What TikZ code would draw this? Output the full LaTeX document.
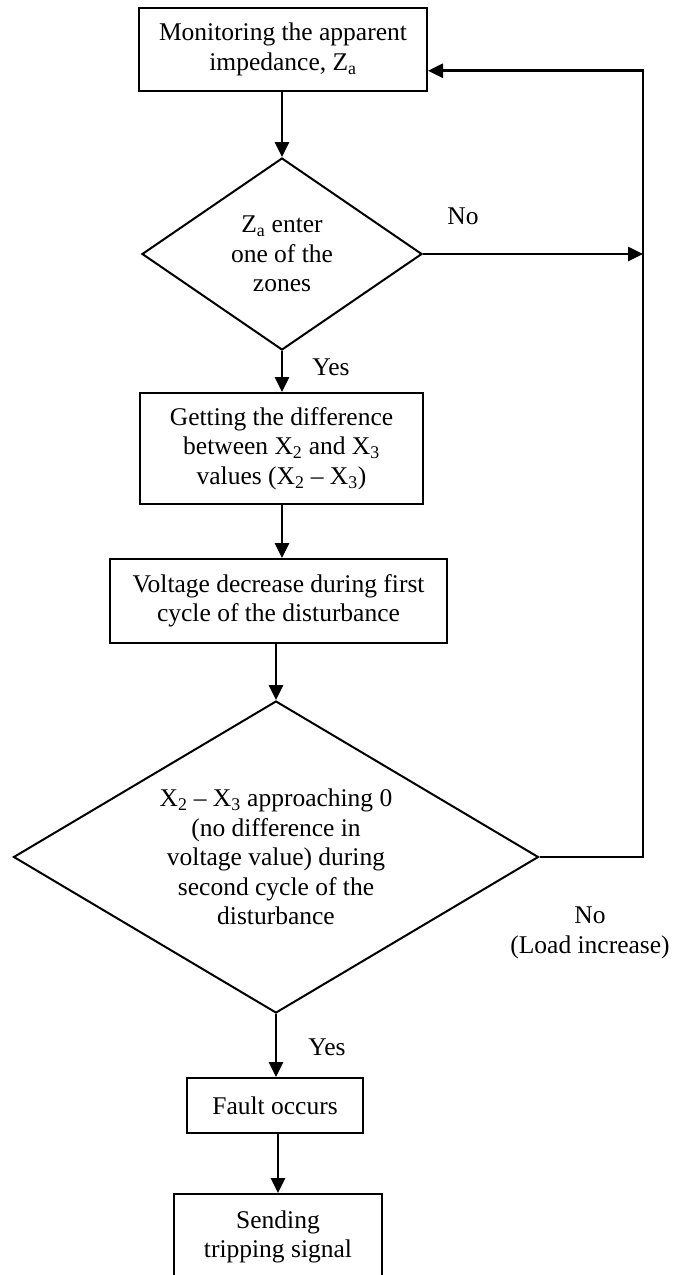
\documentclass[tikz,border=0pt]{standalone}
\usepackage{fontspec}
\setmainfont{Liberation Serif}
\usetikzlibrary{shapes.geometric,arrows.meta,calc}
\begin{document}
\begin{tikzpicture}[x=1pt,y=-1pt,
  every node/.style={font=\fontsize{25.5}{29.5}\selectfont},
  box/.style={draw,line width=2pt,align=center,inner sep=0pt},
  dia/.style={draw,shape=diamond,line width=2pt,align=center,inner sep=0pt},
  arr/.style={line width=2.6pt,-{Triangle[length=15pt,width=14pt]}},
  lbl/.style={align=center,inner sep=0pt}]
\useasboundingbox (0,0) rectangle (681,1275);
\node[box,minimum width=288,minimum height=83] (b1) at (283,49.5) {Monitoring the apparent\\impedance, Z\textsubscript{a}};
\node[dia,aspect=1.46,minimum width=280,minimum height=192] (d1) at (282,254) {Z\textsubscript{a} enter\\one of the\\zones};
\node[box,minimum width=283,minimum height=111] (b2) at (281.5,448.5) {Getting the difference\\between X\textsubscript{2} and X\textsubscript{3}\\values (X\textsubscript{2} – X\textsubscript{3})};
\node[box,minimum width=337,minimum height=84] (b3) at (278.5,601) {Voltage decrease during first\\cycle of the disturbance};
\node[dia,aspect=1.68,minimum width=525,minimum height=312] (d2) at (276,857) {X\textsubscript{2} – X\textsubscript{3} approaching 0\\(no difference in\\voltage value) during\\second cycle of the\\disturbance};
\node[box,minimum width=176,minimum height=55] (b4) at (275,1105.5) {Fault occurs};
\node[box,minimum width=208,minimum height=86] (b5) at (278,1237) {Sending\\tripping signal};
\coordinate (r) at (643,0);
\coordinate (in1) at ($(b1.south east)!0.25!(b1.north east)$);
\node[lbl] (no1) at (463,216) {No};
\node[lbl] (yes1) at (331,367) {Yes};
\node[lbl] (no2) at (590,933) {No\\(Load increase)};
\node[lbl] (yes2) at (327,1047) {Yes};
\draw[arr] (b1.south -| d1.north) -- (d1.north);
\draw[arr] (d1.south) -- (d1.south |- b2.north);
\draw[arr] (b2.south -| d1.south) -- (d1.south |- b3.north);
\draw[arr] (b3.south -| d2.north) -- (d2.north);
\draw[arr] (d2.south) -- (d2.south |- b4.north);
\draw[arr] (b4.south -| b5.north) -- (b5.north);
\draw[arr] (d1.east) -- (d1.east -| r);
\draw[arr] (d2.east) -- (d2.east -| r) -- (r |- in1) -- (in1);
\end{tikzpicture}
\end{document}
